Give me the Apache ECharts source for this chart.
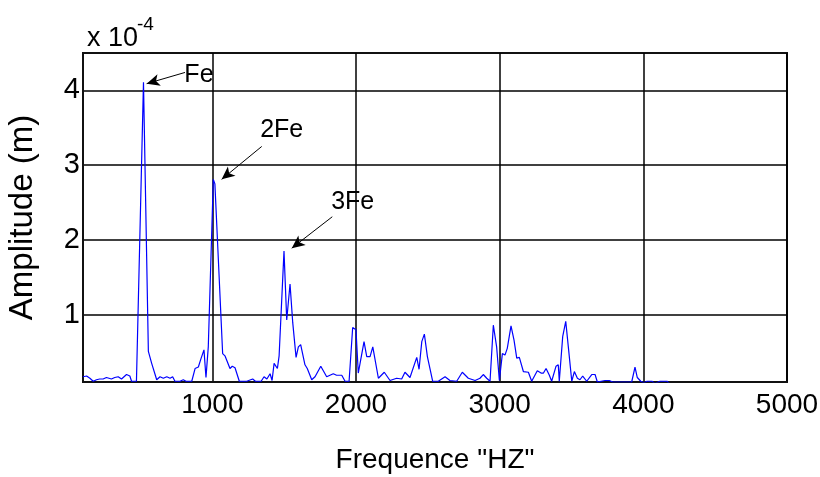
<!DOCTYPE html>
<html>
<head>
<meta charset="utf-8">
<script src="https://cdn.jsdelivr.net/npm/echarts@6/dist/echarts.min.js"></script>
<style>
  html, body { margin: 0; padding: 0; background: #fff; }
  #main { width: 820px; height: 477px; }
</style>
</head>
<body>
<div id="main"></div>
<script>
// frequency (Hz) and amplitude (x 1e-4 m)
var freqs = [100, 125, 148, 171, 194, 216, 240, 263, 298, 321, 345, 368, 403, 426, 438, 472,
    485, 521, 555, 578, 613, 636, 659, 683, 706, 724, 740, 775, 798, 817, 857, 880,
    903, 919, 942, 956, 972, 1007, 1018, 1072, 1088, 1123, 1139, 1158, 1188, 1240, 1281, 1300,
    1340, 1360, 1380, 1402, 1416, 1430, 1453, 1465, 1499, 1518, 1541, 1560, 1583, 1599, 1615, 1645,
    1661, 1692, 1715, 1755, 1796, 1842, 1865, 1901, 1924, 1952, 1977, 2000, 2016, 2056, 2075, 2098,
    2117, 2156, 2197, 2237, 2283, 2318, 2341, 2376, 2423, 2439, 2458, 2476, 2497, 2515, 2534, 2573,
    2620, 2654, 2701, 2740, 2782, 2829, 2863, 2886, 2910, 2933, 2956, 2979, 2998, 3019, 3037, 3053,
    3079, 3100, 3119, 3137, 3165, 3200, 3223, 3262, 3288, 3305, 3323, 3346, 3362, 3392, 3408, 3415,
    3439, 3460, 3478, 3502, 3520, 3541, 3559, 3578, 3606, 3641, 3664, 3680, 3733, 3763, 3787, 3919,
    3942, 3958, 3982, 4005, 4025, 4060, 4080, 4115, 4165, 4190, 4500, 5000];
var amps = [0.17, 0.18, 0.15, 0.11, 0.13, 0.14, 0.14, 0.16, 0.14, 0.16, 0.17, 0.14, 0.20, 0.18, 0.11, 0.11,
    0.12, 4.11, 0.51, 0.35, 0.13, 0.17, 0.15, 0.17, 0.15, 0.17, 0.11, 0.11, 0.13, 0.11, 0.11, 0.28,
    0.30, 0.40, 0.53, 0.16, 0.57, 2.81, 2.75, 0.48, 0.45, 0.28, 0.31, 0.29, 0.11, 0.11, 0.14, 0.11,
    0.11, 0.17, 0.14, 0.21, 0.12, 0.35, 0.28, 0.45, 1.85, 0.93, 1.41, 0.89, 0.43, 0.57, 0.60, 0.33,
    0.28, 0.13, 0.17, 0.31, 0.17, 0.21, 0.19, 0.19, 0.11, 0.11, 0.83, 0.80, 0.22, 0.64, 0.44, 0.44,
    0.57, 0.15, 0.23, 0.12, 0.15, 0.14, 0.23, 0.16, 0.43, 0.27, 0.64, 0.74, 0.44, 0.28, 0.11, 0.11,
    0.17, 0.12, 0.11, 0.23, 0.15, 0.12, 0.15, 0.20, 0.15, 0.11, 0.86, 0.57, 0.12, 0.48, 0.46, 0.55,
    0.85, 0.66, 0.42, 0.43, 0.24, 0.23, 0.11, 0.25, 0.22, 0.22, 0.28, 0.19, 0.11, 0.31, 0.33, 0.11,
    0.71, 0.91, 0.57, 0.11, 0.24, 0.15, 0.13, 0.18, 0.11, 0.20, 0.20, 0.10, 0.12, 0.12, 0.10, 0.10,
    0.30, 0.16, 0.11, 0.09, 0.11, 0.11, 0.08, 0.11, 0.11, 0.06, 0.05, 0.05];

var xTicks = [1000, 2000, 3000, 4000, 5000];
var yTicks = [1, 2, 3, 4];

// harmonic labels: text, label position, arrow tail, arrow tip
var peakNames = ['Fe', '2Fe', '3Fe'];
var peakText = [[907, 4.21], [1483, 3.47], [1977, 2.50]];
var arrowFrom = [[810, 4.24], [1344, 3.25], [1835, 2.31]];
var arrowTo = [[543, 4.09], [1065, 2.81], [1553, 1.89]];

var font = "'Liberation Sans', Arial, sans-serif";

var seriesData = [];
for (var i = 0; i < freqs.length; i++) {
    seriesData.push([freqs[i], amps[i]]);
}
var arrowLines = [];
var textPoints = [];
for (var k = 0; k < peakNames.length; k++) {
    arrowLines.push([{coord: arrowFrom[k]}, {coord: arrowTo[k]}]);
    textPoints.push({name: peakNames[k], coord: peakText[k]});
}

var chart = echarts.init(document.getElementById('main'));
var option = {
    animation: false,
    backgroundColor: '#fff',
    title: [{
        text: 'x 10',
        left: 82,
        top: 20,
        textStyle: {fontFamily: font, fontSize: 27, fontWeight: 'normal', color: '#000'}
    }, {
        text: '-4',
        left: 132,
        top: 10,
        textStyle: {fontFamily: font, fontSize: 19, fontWeight: 'normal', color: '#000'}
    }],
    grid: {
        left: 83,
        right: 33,
        top: 53,
        bottom: 95,
        outerBoundsMode: 'none',
        containLabel: false,
        show: true,
        borderColor: '#111',
        borderWidth: 2
    },
    xAxis: {
        type: 'value',
        min: 100,
        max: 5000,
        name: 'Frequence "HZ"',
        nameLocation: 'middle',
        nameGap: 64,
        nameTextStyle: {fontFamily: font, fontSize: 28, color: '#000'},
        axisLine: {show: true, onZero: false, lineStyle: {color: '#111', width: 2}},
        axisTick: {show: false, customValues: xTicks},
        axisLabel: {
            customValues: xTicks,
            margin: 9,
            fontFamily: font,
            fontSize: 28,
            color: '#000',
            formatter: function (v) {
                return String(v);
            }
        },
        splitLine: {show: true, lineStyle: {color: '#000', width: 1.5}}
    },
    yAxis: {
        type: 'value',
        min: 0.1,
        max: 4.5,
        name: 'Amplitude (m)',
        nameLocation: 'middle',
        nameGap: 44,
        nameTextStyle: {fontFamily: font, fontSize: 33, color: '#000'},
        axisLine: {show: true, lineStyle: {color: '#111', width: 2}},
        axisTick: {show: false, customValues: yTicks},
        axisLabel: {customValues: yTicks, margin: 3, fontFamily: font, fontSize: 29, color: '#000'},
        splitLine: {show: true, lineStyle: {color: '#000', width: 1.5}}
    },
    series: [{
        type: 'line',
        data: seriesData,
        showSymbol: false,
        symbol: 'none',
        clip: true,
        lineStyle: {color: '#0000ff', width: 1.2},
        markLine: {
            silent: true,
            symbol: ['none', 'arrow'],
            symbolSize: [9, 13],
            label: {show: false},
            lineStyle: {color: '#000', width: 1, type: 'solid'},
            data: arrowLines
        },
        markPoint: {
            silent: true,
            symbol: 'circle',
            symbolSize: 0,
            label: {
                show: true,
                position: 'inside',
                formatter: '{b}',
                fontFamily: font,
                fontSize: 25,
                color: '#000'
            },
            data: textPoints
        }
    }]
};
chart.setOption(option);
</script>
</body>
</html>
